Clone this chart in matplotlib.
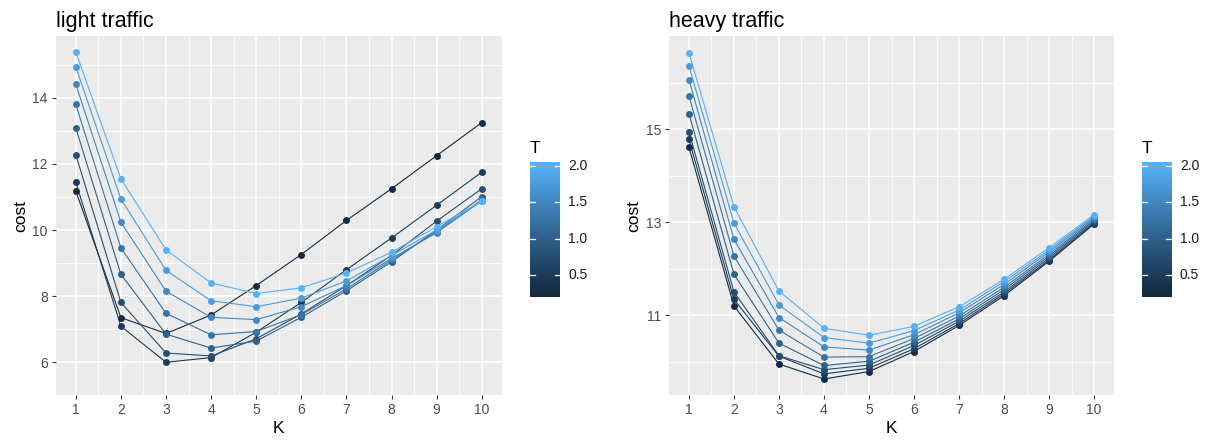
import numpy as np
import matplotlib
matplotlib.use("Agg")
import matplotlib.pyplot as plt

plt.rcParams['font.family'] = ['Liberation Sans', 'DejaVu Sans']

K = [1, 2, 3, 4, 5, 6, 7, 8, 9, 10]
T_values = [0.25, 0.5, 0.75, 1.0, 1.25, 1.5, 1.75, 2.0]

light_cost = {
    0.25: [11.18, 7.35, 6.87, 7.43, 8.32, 9.26, 10.29, 11.25, 12.25, 13.25],
    0.5:  [11.44, 7.09, 6.00, 6.14, 6.91, 7.81, 8.80, 9.76, 10.75, 11.75],
    0.75: [12.28, 7.81, 6.28, 6.19, 6.71, 7.46, 8.32, 9.23, 10.27, 11.25],
    1.0:  [13.09, 8.66, 6.85, 6.43, 6.64, 7.36, 8.16, 9.04, 10.00, 11.01],
    1.25: [13.80, 9.46, 7.48, 6.83, 6.93, 7.44, 8.22, 9.10, 9.95, 10.91],
    1.5:  [14.41, 10.24, 8.15, 7.36, 7.29, 7.68, 8.32, 9.14, 9.92, 10.88],
    1.75: [14.94, 10.94, 8.78, 7.86, 7.68, 7.94, 8.46, 9.23, 10.00, 10.87],
    2.0:  [15.39, 11.55, 9.40, 8.40, 8.08, 8.25, 8.70, 9.33, 10.10, 10.87],
}

heavy_cost = {
    0.25: [14.61, 11.20, 9.95, 9.63, 9.79, 10.22, 10.78, 11.42, 12.16, 12.96],
    0.5:  [14.78, 11.34, 10.12, 9.74, 9.86, 10.28, 10.82, 11.46, 12.19, 12.98],
    0.75: [14.94, 11.50, 10.13, 9.83, 9.93, 10.35, 10.87, 11.50, 12.23, 13.01],
    1.0:  [15.33, 11.88, 10.40, 9.92, 10.01, 10.42, 10.92, 11.55, 12.27, 13.04],
    1.25: [15.71, 12.27, 10.68, 10.10, 10.11, 10.50, 10.98, 11.60, 12.31, 13.07],
    1.5:  [16.06, 12.63, 10.95, 10.32, 10.25, 10.58, 11.05, 11.66, 12.36, 13.10],
    1.75: [16.36, 12.98, 11.22, 10.52, 10.40, 10.67, 11.11, 11.72, 12.40, 13.13],
    2.0:  [16.64, 13.33, 11.52, 10.72, 10.57, 10.76, 11.18, 11.77, 12.45, 13.16],
}

light_yticks = [6, 8, 10, 12, 14]
heavy_yticks = [11, 13, 15]
cbar_ticks = [0.5, 1.0, 1.5, 2.0]
cbar_labels = ["0.5", "1.0", "1.5", "2.0"]

# ---- ggplot-like Lab gradient from #132B43 to #56B1F7 ----
def hex2rgb(h):
    h = h.lstrip('#')
    return np.array([int(h[i:i + 2], 16) / 255 for i in (0, 2, 4)])

M = np.array([[0.4124, 0.3576, 0.1805], [0.2126, 0.7152, 0.0722], [0.0193, 0.1192, 0.9505]])
WHITE = np.array([0.95047, 1.0, 1.08883])

def rgb2lab(c):
    lin = np.where(c <= 0.04045, c / 12.92, ((c + 0.055) / 1.055) ** 2.4)
    xyz = M @ lin / WHITE
    f = np.where(xyz > 0.008856, np.cbrt(xyz), 7.787 * xyz + 16 / 116)
    return np.array([116 * f[1] - 16, 500 * (f[0] - f[1]), 200 * (f[1] - f[2])])

def lab2rgb(lab):
    L, a, b = lab
    fy_ = (L + 16) / 116
    fx_ = fy_ + a / 500
    fz_ = fy_ - b / 200
    f = np.array([fx_, fy_, fz_])
    xyz = np.where(f ** 3 > 0.008856, f ** 3, (f - 16 / 116) / 7.787) * WHITE
    lin = np.linalg.solve(M, xyz)
    c = np.where(lin <= 0.0031308, 12.92 * lin, 1.055 * np.clip(lin, 0, None) ** (1 / 2.4) - 0.055)
    return np.clip(c, 0, 1)

LAB_LO = rgb2lab(hex2rgb('#132B43'))
LAB_HI = rgb2lab(hex2rgb('#56B1F7'))
TMIN, TMAX = min(T_values), max(T_values)

def tcolor(t):
    s = np.clip((t - TMIN) / (TMAX - TMIN), 0, 1)
    return lab2rgb(LAB_LO + s * (LAB_HI - LAB_LO))

W, H = 1208, 441
fig = plt.figure(figsize=(W / 100, H / 100), dpi=100)

def fx(px):
    return px / W

def fy(py):
    return 1 - py / H

def draw_panel(x0, x1, data, yticks, title):
    y0, y1 = 36.4, 395.3
    ax = fig.add_axes([fx(x0), fy(y1), fx(x1 - x0), (y1 - y0) / H])
    ax.set_facecolor('#EBEBEB')
    for s in ax.spines.values():
        s.set_visible(False)
    allv = np.concatenate([data[t] for t in T_values])
    lo, hi = allv.min(), allv.max()
    pad = 0.05 * (hi - lo)
    ax.set_ylim(lo - pad, hi + pad)
    ax.set_xlim(1 - 0.45, 10 + 0.45)
    ax.set_xticks(K)
    ax.set_xticks([k + 0.5 for k in K[:-1]], minor=True)
    ax.set_yticks(yticks)
    ax.set_yticks([v + 1 for v in yticks] + [yticks[0] - 1], minor=True)
    ax.grid(which='major', color='white', linewidth=1.1)
    ax.grid(which='minor', color='white', linewidth=0.55)
    ax.set_axisbelow(True)
    ax.tick_params(which='major', length=3, width=0.8, color='#333333',
                   labelsize=10, labelcolor='#4D4D4D', pad=2.5)
    ax.tick_params(which='minor', length=0)
    for t in T_values:
        ax.plot(K, data[t], color=tcolor(t), linewidth=0.8, zorder=2)
    for t in T_values:
        ax.plot(K, data[t], linestyle='none', marker='o', markersize=5,
                color=tcolor(t), markeredgewidth=0, zorder=3)
    ax.set_xlabel('K', fontsize=12.5, labelpad=3)
    ax.set_ylabel('cost', fontsize=12.5, labelpad=3)
    ax.set_title(title, loc='left', fontsize=15.5, pad=7)
    return ax

def draw_cbar(x0):
    bx0, bx1 = x0, x0 + 30
    by0, by1 = 162.3, 296.7
    cax = fig.add_axes([fx(bx0), fy(by1), fx(bx1 - bx0), (by1 - by0) / H])
    half = (TMAX - TMIN) / 19 / 2
    vlo, vhi = TMIN - half, TMAX + half
    vals = np.linspace(vhi, vlo, 300)
    img = np.array([tcolor(v) for v in vals])[:, None, :]
    cax.imshow(img, aspect='auto', extent=[0, 1, vlo, vhi], origin='upper')
    cax.set_xlim(0, 1)
    cax.set_ylim(vlo, vhi)
    for s in cax.spines.values():
        s.set_visible(False)
    cax.set_xticks([])
    cax.set_yticks([])
    for t, lab in zip(cbar_ticks, cbar_labels):
        cax.plot([0, 0.18], [t, t], color='white', linewidth=0.9)
        cax.plot([0.82, 1], [t, t], color='white', linewidth=0.9)
        cax.text(1.27, t, lab, transform=cax.transData,
                 fontsize=10, va='center', ha='left', color='#1A1A1A', clip_on=False)
    fig.text(fx(bx0), fy(148), 'T', fontsize=12.5, ha='left', va='center')

draw_panel(55.5, 502, light_cost, light_yticks, 'light traffic')
draw_cbar(530)
draw_panel(668.7, 1114.3, heavy_cost, heavy_yticks, 'heavy traffic')
draw_cbar(1141.7)

fig.savefig('out.png', dpi=100, facecolor='white')
